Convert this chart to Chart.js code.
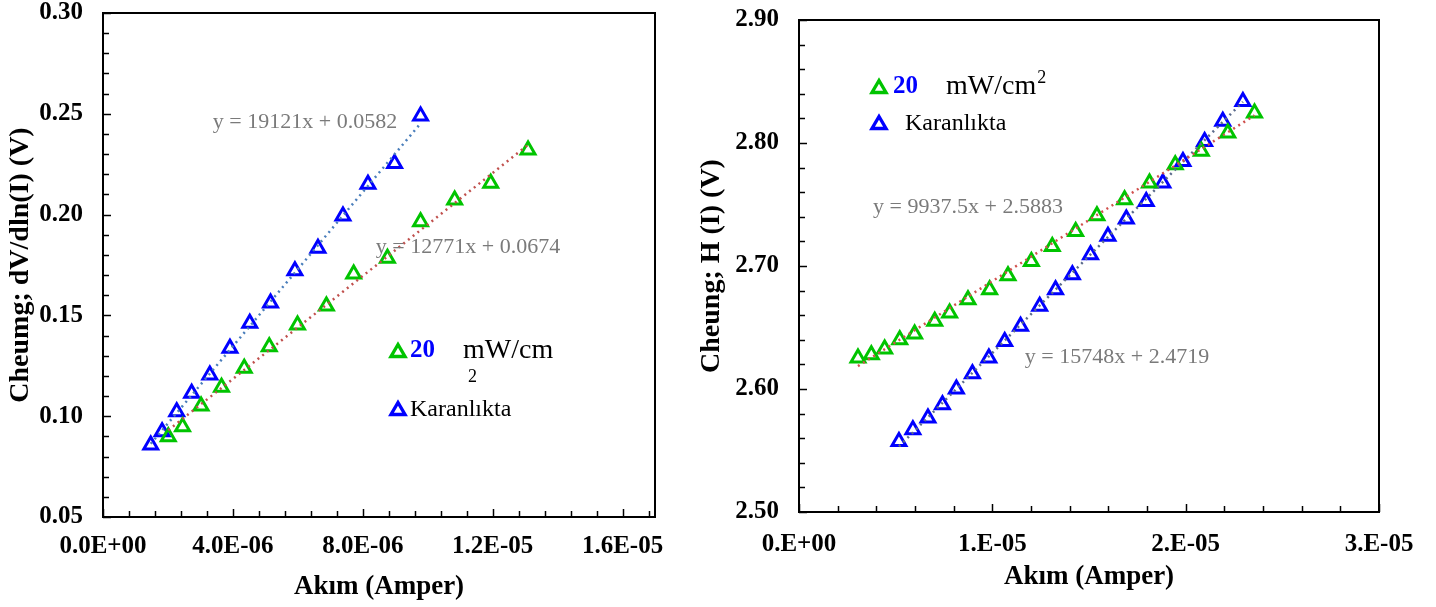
<!DOCTYPE html>
<html>
<head>
<meta charset="utf-8">
<script src="https://cdn.jsdelivr.net/npm/chart.js@4.4.1/dist/chart.umd.min.js"></script>
<style>
  body { margin: 0; background: #fff; width: 1436px; height: 607px; overflow: hidden; position: relative; }
  canvas { position: absolute; top: 0; }
  #left { left: 0; }
  #right { left: 690px; }
</style>
</head>
<body>
<canvas id="left" width="700" height="607"></canvas>
<canvas id="right" width="746" height="607"></canvas>
<script>
/* values */
var leftBlueX = [1.47e-6, 1.82e-6, 2.27e-6, 2.73e-6, 3.29e-6, 3.91e-6, 4.52e-6, 5.16e-6, 5.91e-6, 6.62e-6, 7.39e-6, 8.16e-6, 8.98e-6, 9.78e-6];
var leftBlueY = [0.0857, 0.0923, 0.1022, 0.1114, 0.1204, 0.1337, 0.1461, 0.1561, 0.1722, 0.1833, 0.1993, 0.2150, 0.2254, 0.2489];
var leftGreenX = [2.01e-6, 2.45e-6, 3.02e-6, 3.65e-6, 4.35e-6, 5.12e-6, 5.99e-6, 6.88e-6, 7.72e-6, 8.76e-6, 9.78e-6, 1.083e-5, 1.194e-5, 1.309e-5];
var leftGreenY = [0.0898, 0.0948, 0.1051, 0.1143, 0.1238, 0.1345, 0.1452, 0.1547, 0.1705, 0.1783, 0.1965, 0.2072, 0.2155, 0.2320];

var rightGreenX = [3.05e-6, 3.74e-6, 4.43e-6, 5.21e-6, 5.98e-6, 7.02e-6, 7.79e-6, 8.74e-6, 9.86e-6, 1.081e-5, 1.202e-5, 1.310e-5, 1.431e-5, 1.541e-5, 1.684e-5, 1.813e-5, 1.946e-5, 2.081e-5, 2.218e-5, 2.356e-5];
var rightGreenY = [2.6252, 2.6279, 2.6325, 2.6401, 2.6447, 2.6550, 2.6618, 2.6726, 2.6807, 2.6921, 2.7037, 2.7159, 2.7281, 2.7409, 2.7539, 2.7675, 2.7824, 2.7932, 2.8081, 2.8244];
var rightBlueX = [5.17e-6, 5.89e-6, 6.67e-6, 7.42e-6, 8.14e-6, 8.97e-6, 9.82e-6, 1.064e-5, 1.146e-5, 1.245e-5, 1.327e-5, 1.414e-5, 1.508e-5, 1.598e-5, 1.693e-5, 1.796e-5, 1.882e-5, 1.986e-5, 2.098e-5, 2.192e-5, 2.296e-5];
var rightBlueY = [2.5574, 2.5669, 2.5764, 2.5872, 2.6000, 2.6124, 2.6252, 2.6387, 2.6511, 2.6672, 2.6807, 2.6929, 2.7092, 2.7241, 2.7382, 2.7525, 2.7675, 2.7850, 2.8013, 2.8176, 2.8338];

// fitted lines as printed on the chart: [slope, intercept]
var leftBlueFit = [19121, 0.0582];
var leftGreenFit = [12771, 0.0674];
var rightGreenFit = [9937.5, 2.5883];
var rightBlueFit = [15748, 2.4719];

var SERIF = '"Liberation Serif", "Times New Roman", serif';
var GREEN = '#00c400';
var BLUE = '#0000ff';

function pts(xs, ys) {
    return xs.map(function (x, i) { return { x: x, y: ys[i] }; });
}
function trend(xs, fit) {
    var a = xs[0], b = xs[xs.length - 1];
    return [{ x: a, y: fit[0] * a + fit[1] }, { x: b, y: fit[0] * b + fit[1] }];
}
function expLabel(digits) {
    return function (v) {
        var s = Number(v).toExponential(digits).split('e');
        var e = parseInt(s[1], 10);
        var m = s[0];
        if (digits === 0) m += '.';
        return m + 'E' + (e < 0 ? '-' : '+') + (Math.abs(e) < 10 ? '0' : '') + Math.abs(e);
    };
}
function markers(label, data, color) {
    return {
        type: 'scatter', label: label, data: data, order: 1,
        pointStyle: 'triangle', pointRadius: 8, pointHoverRadius: 8,
        borderColor: color, backgroundColor: 'rgba(0,0,0,0)', borderWidth: 3
    };
}
function dotted(data, color) {
    return {
        type: 'line', data: data, order: 0, borderColor: color, borderWidth: 2.5,
        borderDash: [2, 4], pointRadius: 0, fill: false
    };
}
function tri(c, x, y, color) {
    c.save();
    c.strokeStyle = color;
    c.lineWidth = 3.4;
    c.beginPath();
    c.moveTo(x, y - 6.5);
    c.lineTo(x + 7, y + 5.5);
    c.lineTo(x - 7, y + 5.5);
    c.closePath();
    c.stroke();
    c.restore();
}

// frame, inside ticks and the texts in the plot
var decor = {
    id: 'decor',
    afterDatasetsDraw: function (chart, args, o) {
        var c = chart.ctx, a = chart.chartArea, sx = chart.scales.x, sy = chart.scales.y;
        c.save();
        c.strokeStyle = '#000';
        c.lineWidth = 1.5;
        var i, v, p, len;
        for (i = 0; i <= o.yMinorCount; i++) {
            v = o.yMin + i * o.yMinor;
            p = Math.round(sy.getPixelForValue(v)) + 0.5;
            len = (i % o.yPer === 0) ? 8 : 6;
            c.beginPath(); c.moveTo(a.left, p); c.lineTo(a.left + len, p); c.stroke();
        }
        for (i = 0; i <= o.xMinorCount; i++) {
            v = i * o.xMinor;
            p = Math.round(sx.getPixelForValue(v)) + 0.5;
            len = (i % o.xPer === 0) ? 8 : 6;
            c.beginPath(); c.moveTo(p, a.bottom); c.lineTo(p, a.bottom - len); c.stroke();
        }
        c.lineWidth = 2;
        c.strokeRect(a.left, a.top, a.right - a.left, a.bottom - a.top);

        c.fillStyle = '#7a7a7a';
        c.font = '22px ' + SERIF;
        c.textBaseline = 'middle';
        c.textAlign = 'center';
        o.equations.forEach(function (e) { c.fillText(e.text, e.x, e.y); });

        var L = o.legend;
        tri(c, L.triX, L.y1, GREEN);
        tri(c, L.triX, L.y2, BLUE);
        c.textAlign = 'left';
        c.font = 'bold 25px ' + SERIF;
        c.fillStyle = BLUE; c.fillText('20', L.numX, L.y1);
        c.fillStyle = '#000';
        c.font = '28px ' + SERIF;
        c.fillText('mW/cm', L.unitX, L.y1);
        var w = c.measureText('mW/cm').width;
        c.font = '18px ' + SERIF;
        if (L.supBelow) c.fillText('2', L.unitX + 5, L.y1 + 26);
        else c.fillText('2', L.unitX + w + 1, L.y1 - 9);
        c.font = '24px ' + SERIF;
        c.fillText('Karanl\u0131kta', L.textX, L.y2 + 1);
        c.restore();
    }
};

function makeChart(id, cfg) {
    var A = cfg.area, W = cfg.width, H = 607;
    return new Chart(document.getElementById(id).getContext('2d'), {
        data: { datasets: cfg.datasets },
        plugins: [decor],
        options: {
            responsive: false,
            animation: false,
            layout: { padding: { top: A.top, right: W - A.right, bottom: 0, left: 0 }, autoPadding: false },
            plugins: { legend: { display: false }, tooltip: { enabled: false }, decor: cfg.decor },
            scales: {
                x: {
                    type: 'linear', min: 0, max: cfg.xMax,
                    afterFit: function (s) {
                        s.height = H - A.bottom;
                        s.paddingLeft = 0; s.paddingRight = 0; s.paddingTop = 0; s.paddingBottom = 0;
                    },
                    grid: { display: false, drawTicks: false },
                    border: { display: false },
                    ticks: {
                        stepSize: cfg.xStep, includeBounds: false, maxRotation: 0,
                        padding: cfg.xTickPad, color: '#000', callback: cfg.xFormat,
                        font: { family: SERIF, size: 25, weight: 'bold', lineHeight: 1 }
                    },
                    title: {
                        display: true, text: 'Ak\u0131m (Amper)', color: '#000',
                        padding: { top: 0, bottom: cfg.xTitlePad },
                        font: { family: SERIF, size: 27, weight: 'bold', lineHeight: 1.2 }
                    }
                },
                y: {
                    type: 'linear', min: cfg.yMin, max: cfg.yMax,
                    afterFit: function (s) {
                        s.width = A.left;
                        s.paddingLeft = 0; s.paddingRight = 0; s.paddingTop = 0; s.paddingBottom = 0;
                    },
                    grid: { display: false, drawTicks: false },
                    border: { display: false },
                    ticks: {
                        stepSize: cfg.yStep, padding: 20, color: '#000',
                        callback: function (v) { return Number(v).toFixed(2); },
                        font: { family: SERIF, size: 25, weight: 'bold', lineHeight: 1 }
                    },
                    title: {
                        display: true, text: cfg.yTitle, color: '#000',
                        padding: { top: cfg.yTitlePad, bottom: 0 },
                        font: { family: SERIF, size: 28, weight: 'bold', lineHeight: 1.2 }
                    }
                }
            }
        }
    });
}

makeChart('left', {
    datasets: [
        markers('20 mW/cm2', pts(leftGreenX, leftGreenY), GREEN),
        markers('Karanl\u0131kta', pts(leftBlueX, leftBlueY), BLUE),
        dotted(trend(leftGreenX, leftGreenFit), '#c0504d'),
        dotted(trend(leftBlueX, leftBlueFit), '#4a7ebb')
    ],
    width: 700,
    area: { left: 103, top: 13, right: 655, bottom: 517 },
    xMax: 1.7e-5, xStep: 4e-6, xTickPad: 17, xTitlePad: 4, xFormat: expLabel(1),
    yMin: 0.05, yMax: 0.30, yStep: 0.05, yTitlePad: 4,
    yTitle: 'Cheumg; dV/dln(I) (V)',
    decor: {
        yMin: 0.05, yMinor: 0.01, yMinorCount: 25, yPer: 5,
        xMinor: 8e-7, xMinorCount: 21, xPer: 5,
        equations: [
            { text: 'y = 19121x + 0.0582', x: 305, y: 122 },
            { text: 'y = 12771x + 0.0674', x: 468, y: 247 }
        ],
        legend: { triX: 398, numX: 410, unitX: 463, textX: 410, y1: 351, y2: 409, supBelow: true }
    }
});

makeChart('right', {
    datasets: [
        markers('20 mW/cm2', pts(rightGreenX, rightGreenY), GREEN),
        markers('Karanl\u0131kta', pts(rightBlueX, rightBlueY), BLUE),
        dotted(trend(rightGreenX, rightGreenFit), '#d0504d'),
        dotted(trend(rightBlueX, rightBlueFit), '#5b6b8c')
    ],
    width: 746,
    area: { left: 109, top: 20, right: 689, bottom: 512 },
    xMax: 3e-5, xStep: 1e-5, xTickPad: 20, xTitlePad: 14, xFormat: expLabel(0),
    yMin: 2.5, yMax: 2.9, yStep: 0.1, yTitlePad: 5,
    yTitle: 'Cheung; H (I) (V)',
    decor: {
        yMin: 2.5, yMinor: 0.02, yMinorCount: 20, yPer: 5,
        xMinor: 2e-6, xMinorCount: 15, xPer: 5,
        equations: [
            { text: 'y = 9937.5x + 2.5883', x: 278, y: 207 },
            { text: 'y = 15748x + 2.4719', x: 427, y: 357 }
        ],
        legend: { triX: 189, numX: 203, unitX: 256, textX: 215, y1: 87, y2: 123, supBelow: false }
    }
});
</script>
</body>
</html>
